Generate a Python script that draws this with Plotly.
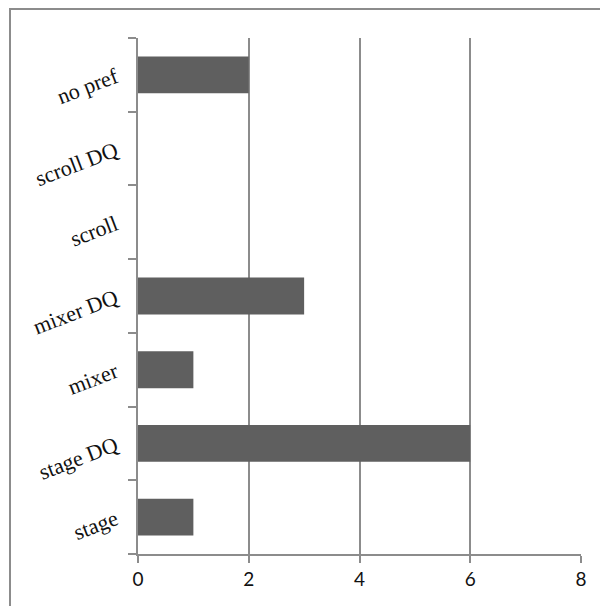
import plotly.graph_objects as go

categories = ["stage", "stage DQ", "mixer", "mixer DQ", "scroll", "scroll DQ", "no pref"]
values = [1, 6, 1, 3, 0, 0, 2]
x_ticks = [0, 2, 4, 6, 8]

fig = go.Figure(go.Bar(
    y=categories, x=values, orientation="h",
    marker=dict(color="#5f5f5f", line=dict(width=0)),
    width=0.5,
))

OFF = 8  # page body margin
L, R, T, B = 138 - OFF, 27, 38 - OFF, 52
W, H = 608 - OFF, 606 - OFF
pw, ph = W - L - R, H - T - B

def px2paper_x(px):
    return (px - OFF - L) / pw

def px2paper_y(py):
    return (H - B - (py - OFF)) / ph

fig.add_shape(type="rect", xref="paper", yref="paper",
              x0=px2paper_x(10), x1=px2paper_x(640),
              y0=px2paper_y(640), y1=px2paper_y(9),
              line=dict(color="#8c8c8c", width=2), layer="below")

fig.update_layout(
    width=W, height=H,
    margin=dict(l=L, r=R, t=T, b=B, autoexpand=False),
    paper_bgcolor="white", plot_bgcolor="white",
    showlegend=False,
)
fig.update_xaxes(
    range=[0, 8], tickvals=x_ticks, ticktext=[str(v) for v in x_ticks],
    showgrid=True, gridcolor="#8c8c8c", gridwidth=2,
    showline=True, linecolor="#8c8c8c", linewidth=2,
    ticks="outside", ticklen=7, tickwidth=2, tickcolor="#8c8c8c",
    zeroline=False, automargin=False,
    tickfont=dict(family="Lato, Liberation Sans, sans-serif", size=19, color="#111111"),
)
fig.update_yaxes(
    categoryorder="array", categoryarray=categories,
    range=[-0.5, 6.5],
    showgrid=False, automargin=False,
    showline=True, linecolor="#8c8c8c", linewidth=2,
    ticks="outside", ticklen=8, tickwidth=2, tickcolor="#8c8c8c",
    tickson="boundaries",
    tickangle=-21,
    ticklabelstandoff=16,
    tickfont=dict(family="Liberation Serif, Times New Roman, serif", size=22, color="#111111"),
)

fig.write_html("out.html")
